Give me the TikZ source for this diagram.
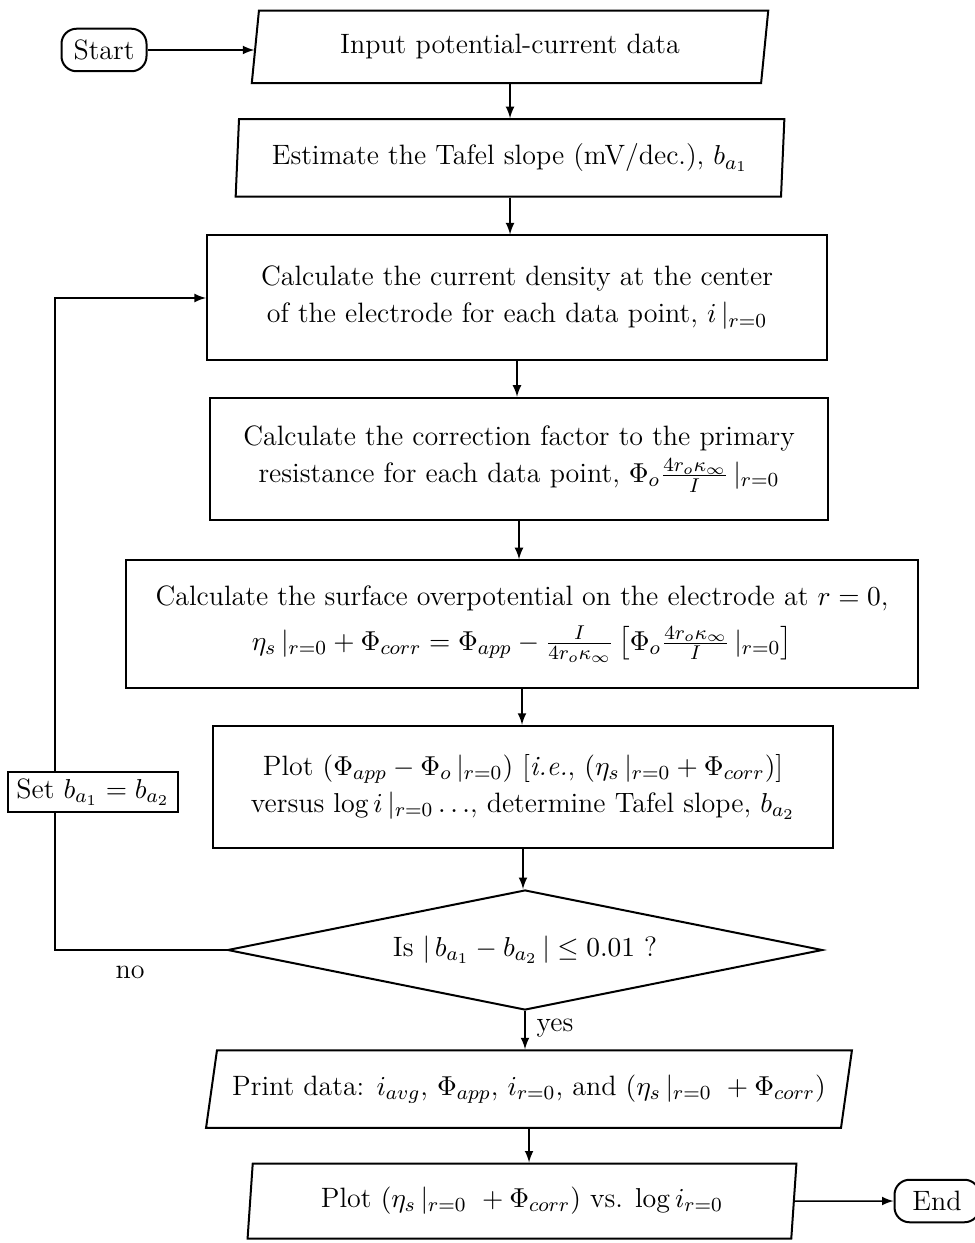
\documentclass[tikz,border=0pt]{standalone}
\usepackage{amsmath,amssymb}
\usepackage{tikz}
\usetikzlibrary{shapes.geometric}

\begin{document}
\begin{tikzpicture}[x=0.4pt,y=-0.4pt,>=latex,
    every node/.style={font=\fontsize{11.2}{14.8}\selectfont},
    box/.style={draw,thick,rectangle,align=center,inner sep=0pt},
    io/.style={draw,thick,trapezium,trapezium stretches=true,align=center,inner sep=0pt},
    term/.style={draw,thick,rounded corners=6pt,minimum width=34pt,minimum height=17pt,inner sep=0pt},
    flow/.style={->,semithick}]
    \useasboundingbox (0,0) rectangle (974,1243);
    % terminals
    \node[term] (start) at (104,50) {Start};
    \node[term] (end) at (937,1201) {End};
    % input / output
    \node[io,trapezium left angle=79,trapezium right angle=101,minimum width=207pt,minimum height=29pt]
      (input) at (510,47) {Input potential-current data};
    \node[io,trapezium left angle=84,trapezium right angle=96,minimum width=220pt,minimum height=31pt]
      (estimate) at (510,158) {Estimate the Tafel slope (mV/dec.), $b_{a_1}$};
    % process boxes
    \node[box,minimum width=248pt,minimum height=50pt] (calc1) at (517,298)
      {Calculate the current density at the center\\ of the electrode for each data point, $i\,|_{r=0}$};
    \node[box,minimum width=247pt,minimum height=49pt] (calc2) at (519,459)
      {Calculate the correction factor to the primary\\ resistance for each data point, $\Phi_o\frac{4r_o\kappa_\infty}{I}\,|_{r=0}$};
    \node[box,minimum width=317pt,minimum height=51pt] (calc3) at (522,624)
      {Calculate the surface overpotential on the electrode at $r=0$,\\[3pt]
       $\eta_s\,|_{r=0} +\Phi_{corr} = \Phi_{app} - \frac{I}{4r_o\kappa_\infty}\left[\Phi_o\frac{4r_o\kappa_\infty}{I}\,|_{r=0}\right]$};
    \node[box,minimum width=248pt,minimum height=49pt] (plot) at (523,787)
      {Plot $(\Phi_{app}-\Phi_o\,|_{r=0})$ [\textit{i.e.}, $(\eta_s\,|_{r=0} +\Phi_{corr})$]\\
       versus $\log i\,|_{r=0}\ldots$, determine Tafel slope, $b_{a_2}$};
    \node[box,minimum width=67.6pt,minimum height=16pt] (set) at (93,792) {Set $b_{a_1}=b_{a_2}$};
    % decision
    \node[draw,thick,diamond,aspect=5,minimum width=238pt,minimum height=48pt,inner sep=0pt]
      (dia) at (525,950) {Is $|\,b_{a_1}-b_{a_2}\,|\leq 0.01$ ?};
    \node[io,trapezium left angle=70,trapezium right angle=110,minimum width=259pt,minimum height=31pt]
      (print) at (529,1089) {Print data: $i_{avg}$, $\Phi_{app}$, $i_{r=0}$, and $(\eta_s\,|_{r=0}\ +\Phi_{corr})$};
    \node[io,trapezium left angle=82,trapezium right angle=98,minimum width=220pt,minimum height=30pt]
      (plottwo) at (522,1201) {Plot $(\eta_s\,|_{r=0}\ +\Phi_{corr})$ vs. $\log i_{r=0}$};
    % labels
    \node (lblno) at (130,972) {no};
    \node (lblyes) at (555,1028) {yes};
    % loop corners
    \coordinate (turnA) at (55,950);
    \coordinate (turnB) at (55,298);
    % connectors
    \draw[flow] (start) -- (start -| input.west);
    \draw[flow] (input.south) -- (input.south |- estimate.north);
    \draw[flow] (estimate.south) -- (estimate.south |- calc1.north);
    \draw[flow] (calc1.south) -- (calc1.south |- calc2.north);
    \draw[flow] (calc2.south) -- (calc2.south |- calc3.north);
    \draw[flow] (calc3.south) -- (calc3.south |- plot.north);
    \draw[flow] (plot.south) -- (plot.south |- dia.north);
    \draw[flow] (dia.south) -- (dia.south |- print.north);
    \draw[flow] (print.south) -- (print.south |- plottwo.north);
    \draw[flow] (plottwo) -- (end);
    \draw[semithick] (dia.west) -- (turnA) -- (set.south -| turnA);
    \draw[flow] (set.north -| turnA) -- (turnB) -- (calc1);
\end{tikzpicture}
\end{document}
